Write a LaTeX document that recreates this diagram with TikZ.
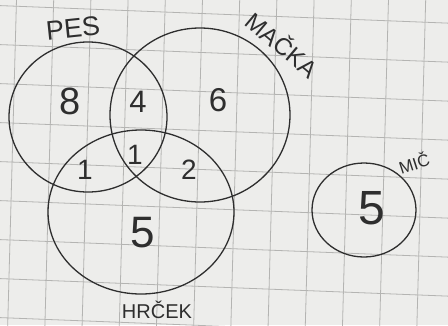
\documentclass[tikz,border=0pt]{standalone}
\usepackage{fontspec}
\setmainfont{Liberation Sans}
\usetikzlibrary{shapes.geometric}
\definecolor{paper}{HTML}{EDEDEB}
\definecolor{gridc}{HTML}{B4B4B2}
\definecolor{ink}{HTML}{2E2E2E}
\tikzset{
  setshape/.style={draw=ink, line width=1.3pt, ellipse, inner sep=0pt},
  num/.style={text=ink, inner sep=0pt},
  lab/.style={text=ink, inner sep=0pt},
  gridline/.style={draw=gridc, line width=0.8pt}
}
\begin{document}
\begin{tikzpicture}[x=1pt,y=-1pt]
\fill[paper] (0,0) rectangle (448,325);
\useasboundingbox (0,0) rectangle (448,325);
\begin{scope}
\clip (0,0) rectangle (448,325);
\foreach \k in {-1,...,12} {
  \pgfmathsetmacro{\xa}{16.75+37.2*\k}
  \pgfmathsetmacro{\xb}{\xa-0.027*340}
  \draw[gridline] (\xa,-10) -- (\xb,330);
}
\foreach \k in {-1,...,9} {
  \pgfmathsetmacro{\ya}{5.2+39*\k}
  \pgfmathsetmacro{\yb}{\ya+0.04*460}
  \draw[gridline] (-10,\ya) -- (460,\yb);
}
\end{scope}
% sets
\node[setshape, minimum width=158pt, minimum height=150pt] (pes) at (88,117) {};
\node[setshape, minimum width=180pt, minimum height=174pt] (macka) at (200,115) {};
\node[setshape, minimum width=186pt, minimum height=164pt] (hrcek) at (141,212) {};
\node[setshape, minimum width=104pt, minimum height=94pt] (mic) at (364,210) {};
% labels
\node[lab, rotate=6, font=\fontsize{27}{27}\selectfont] (lpes) at (73,28) {PES};
\node[lab, rotate=-40, font=\fontsize{24}{24}\selectfont] (lmacka) at (283,44) {MAČKA};
\node[lab, font=\fontsize{20}{20}\selectfont] (lhrcek) at (157,310) {HRČEK};
\node[lab, rotate=18, font=\fontsize{17}{17}\selectfont] (lmic) at (414,163) {MIČ};
% numbers
\node[num, font=\fontsize{38}{38}\selectfont] (n8) at (70,101) {8};
\node[num, font=\fontsize{31}{31}\selectfont] (n4) at (138,102) {4};
\node[num, font=\fontsize{33}{33}\selectfont] (n6) at (218,100) {6};
\node[num, font=\fontsize{28}{28}\selectfont] (n1a) at (85,170) {1};
\node[num, font=\fontsize{28}{28}\selectfont] (n1b) at (135,155) {1};
\node[num, font=\fontsize{28}{28}\selectfont] (n2) at (189,170) {2};
\node[num, font=\fontsize{44}{44}\selectfont] (n5) at (143,233) {5};
\node[num, font=\fontsize{48}{48}\selectfont] (n5b) at (372,208) {5};
\end{tikzpicture}
\end{document}
